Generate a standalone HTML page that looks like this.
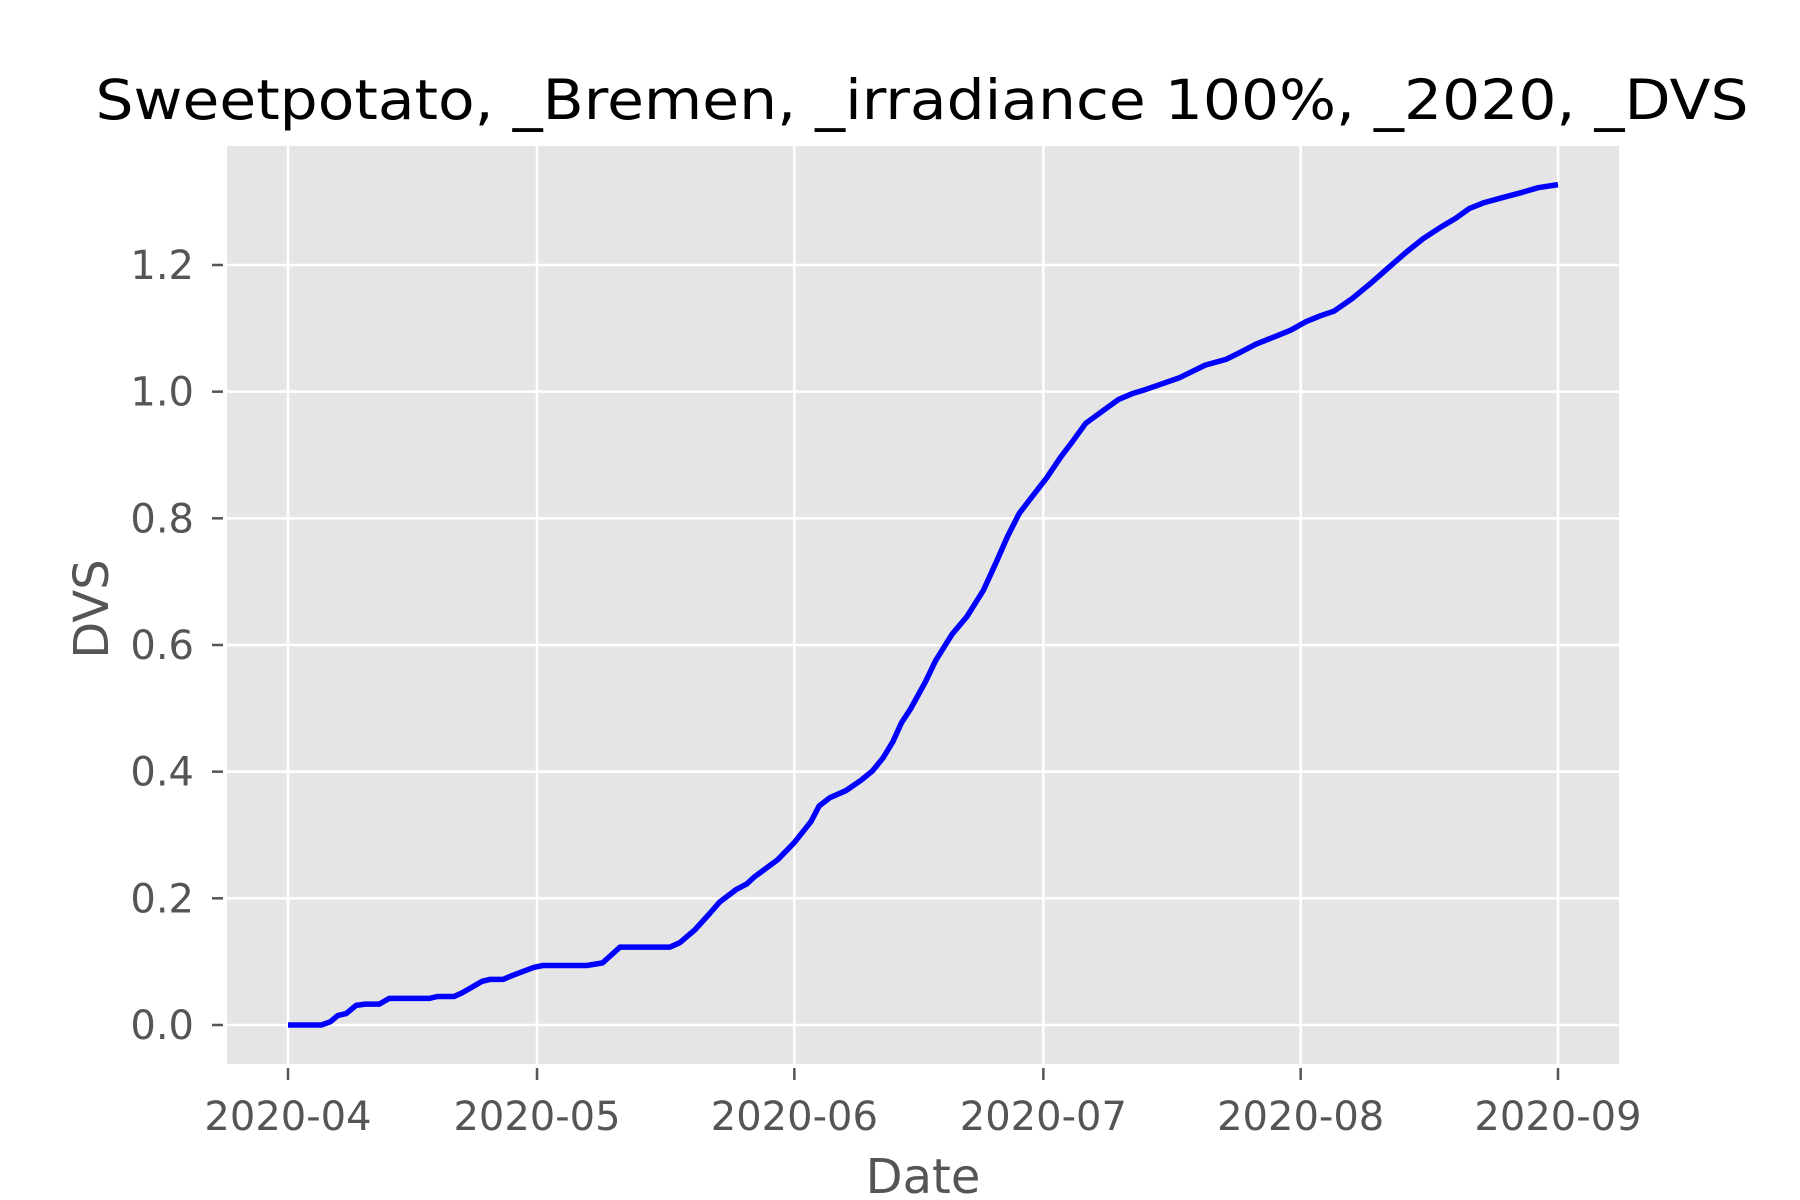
<!DOCTYPE html>
<html><head><meta charset="utf-8"><style>
html,body{margin:0;padding:0;background:#fff;width:1800px;height:1200px;overflow:hidden}
svg text{font-family:"DejaVu Sans","Liberation Sans",sans-serif}
</style></head><body>
<svg id="chart" width="1800" height="1200" viewBox="0 0 1800 1200" xmlns="http://www.w3.org/2000/svg">
<text x="922" y="119" font-size="55" text-anchor="middle" fill="#000" textLength="1653" lengthAdjust="spacingAndGlyphs">Sweetpotato, _Bremen, _irradiance 100%, _2020, _DVS</text>
<rect x="227" y="146" width="1392" height="918" fill="#e5e5e5"/>
<g id="grid"></g>
<g id="ticks"></g>
<text x="923" y="1193" font-size="48" text-anchor="middle" fill="#555">Date</text>
<text x="0" y="0" font-size="48" text-anchor="middle" fill="#555" transform="translate(108,609) rotate(-90)">DVS</text>
<g id="series"></g>
</svg>
<script>
const monthLabels = ["2020-04","2020-05","2020-06","2020-07","2020-08","2020-09"];
const monthDays = [0,30,61,91,122,153];
const yTickValues = [0.0,0.2,0.4,0.6,0.8,1.0,1.2];
const yTickLabels = ["0.0","0.2","0.4","0.6","0.8","1.0","1.2"];
const days = [0,4,5.1,6,7,8.2,9.3,11,12.2,17,18,20,21,23.4,24.3,25.9,27,28.4,29.6,30.7,36,37.9,40,46,47.2,49,50.8,52,54,55.3,56.2,59,61,63,64,65.3,67.2,69,70.4,71.7,72.9,73.9,75,76.8,78,80,81.8,83.8,85.3,86.7,88.1,89.8,91.4,93.1,94.5,96.1,98.5,100.1,101.7,103,105,107.4,109.1,110.5,113,114.4,116.6,119.1,120.8,122.7,124.4,126,128.2,130.6,132.6,134.7,136.8,138.9,140.7,142.3,144,146.5,148.5,150.6,153];
const dvs = [0,0,0.005,0.015,0.018,0.031,0.033,0.033,0.042,0.042,0.045,0.045,0.051,0.069,0.072,0.072,0.078,0.085,0.091,0.094,0.094,0.098,0.123,0.123,0.130,0.150,0.176,0.194,0.214,0.223,0.234,0.261,0.288,0.321,0.346,0.359,0.370,0.386,0.401,0.422,0.448,0.477,0.499,0.542,0.575,0.617,0.645,0.687,0.730,0.772,0.808,0.837,0.864,0.897,0.921,0.950,0.973,0.988,0.997,1.002,1.011,1.022,1.033,1.042,1.051,1.060,1.075,1.088,1.097,1.111,1.120,1.127,1.147,1.173,1.196,1.220,1.242,1.260,1.274,1.289,1.298,1.307,1.314,1.322,1.327];

const NS="http://www.w3.org/2000/svg";
const xS = d => 288 + d*(1558-288)/153;
const yS = v => 1025 - v*(1025-265)/1.2;
const grid=document.getElementById('grid'), ticks=document.getElementById('ticks'), series=document.getElementById('series');
function mk(tag, attrs, parent){const e=document.createElementNS(NS,tag);for(const k in attrs)e.setAttribute(k,attrs[k]);parent.appendChild(e);return e;}

monthDays.forEach((d,i)=>{
  const x=xS(d);
  const g=mk('line',{x1:x,x2:x,y1:146,y2:1064,stroke:'#fff','stroke-width':2.5},grid);
  
  
  const t=mk('line',{x1:x,x2:x,y1:1068,y2:1080,stroke:'#555','stroke-width':2.5},ticks);
  
  
  const l=mk('text',{x:x,y:1130,'font-size':40,'text-anchor':'middle',fill:'#555'},ticks);
  l.textContent=monthLabels[i];
  
  
});
yTickValues.forEach((v,i)=>{
  const y=yS(v);
  const g=mk('line',{x1:227,x2:1619,y1:y,y2:y,stroke:'#fff','stroke-width':2.5},grid);
  
  
  const t=mk('line',{x1:212,x2:223,y1:y,y2:y,stroke:'#555','stroke-width':2.5},ticks);
  
  
  const l=mk('text',{x:194,y:y+14,'font-size':40,'text-anchor':'end',fill:'#555'},ticks);
  l.textContent=yTickLabels[i];
  
  
});
const pts=days.map((d,i)=>xS(d).toFixed(1)+','+yS(dvs[i]).toFixed(1)).join(' ');
const line=mk('polyline',{points:pts,fill:'none',stroke:'#0000ff','stroke-width':5.5,'stroke-linejoin':'round'},series);


</script>
</body></html>
